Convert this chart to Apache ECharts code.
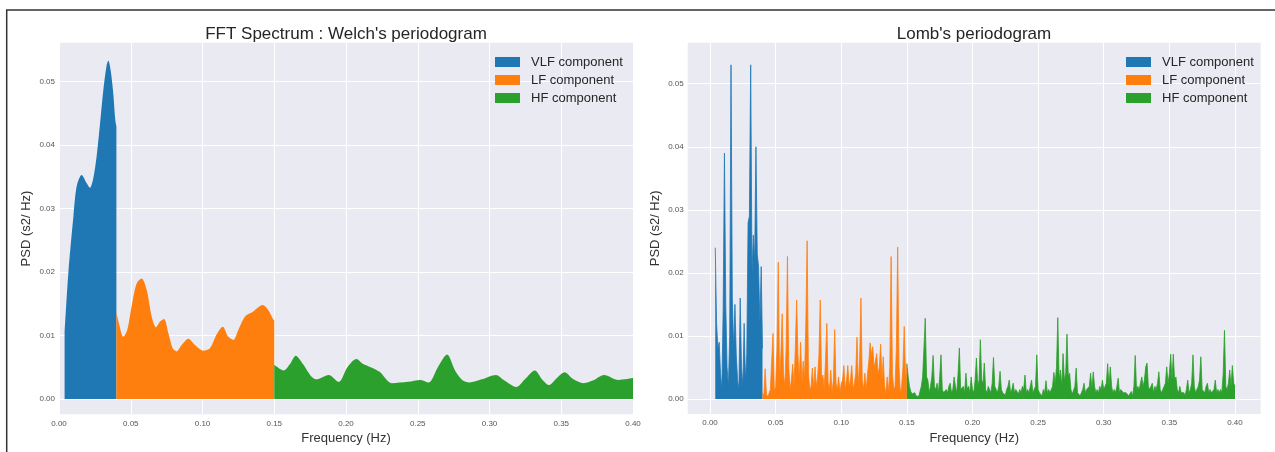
<!DOCTYPE html>
<html><head><meta charset="utf-8">
<script src="https://cdn.jsdelivr.net/npm/echarts@6/dist/echarts.min.js"></script>
<style>html,body{margin:0;padding:0;background:#fff}#c{width:1275px;height:452px}</style>
</head><body><div id="c"></div>
<script>
const FONT = '"Liberation Sans", Arial, sans-serif';
const COLORS = ['#1f77b4', '#ff7f0e', '#2ca02c'];
const componentNames = ['VLF component', 'LF component', 'HF component'];
const titles = ["FFT Spectrum : Welch's periodogram", "Lomb's periodogram"];
const xTicks = [0, 0.05, 0.10, 0.15, 0.20, 0.25, 0.30, 0.35, 0.40];
const yTicks = [0, 0.01, 0.02, 0.03, 0.04, 0.05];

// Welch periodogram: [frequency (Hz), PSD]
const welchVLF = [[0.0039,0.0105],[0.0065,0.0198],[0.0100,0.0287],[0.0123,0.0335],[0.0158,0.0353],[0.0193,0.0340],[0.0216,0.0333],[0.0239,0.0348],[0.0262,0.0382],[0.0286,0.0434],[0.0309,0.0487],[0.0332,0.0526],[0.0344,0.0533],[0.0360,0.0518],[0.0378,0.0482],[0.0392,0.0440],[0.0400,0.0430]];
const welchLF = [[0.0400,0.0137],[0.0420,0.0117],[0.0448,0.0098],[0.0476,0.0109],[0.0506,0.0146],[0.0541,0.0182],[0.0576,0.0190],[0.0611,0.0172],[0.0646,0.0130],[0.0676,0.0113],[0.0704,0.0122],[0.0732,0.0126],[0.0762,0.0104],[0.0792,0.0080],[0.0820,0.0075],[0.0855,0.0085],[0.0901,0.0095],[0.0948,0.0085],[0.1006,0.0076],[0.1052,0.0080],[0.1099,0.0102],[0.1141,0.0114],[0.1180,0.0098],[0.1215,0.0093],[0.1250,0.0109],[0.1296,0.0130],[0.1354,0.0138],[0.1419,0.0148],[0.1459,0.0140],[0.1494,0.0125],[0.1500,0.0124]];
const welchHF = [[0.1500,0.0054],[0.1566,0.0045],[0.1610,0.0055],[0.1650,0.0068],[0.1700,0.0055],[0.1750,0.0038],[0.1793,0.0031],[0.1879,0.0038],[0.1950,0.0027],[0.2010,0.0050],[0.2072,0.0063],[0.2120,0.0055],[0.2163,0.0051],[0.2234,0.0043],[0.2319,0.0025],[0.2433,0.0027],[0.2518,0.0030],[0.2576,0.0026],[0.2640,0.0050],[0.2704,0.0070],[0.2760,0.0045],[0.2810,0.0030],[0.2860,0.0026],[0.2945,0.0031],[0.3045,0.0038],[0.3100,0.0030],[0.3187,0.0019],[0.3250,0.0032],[0.3315,0.0045],[0.3370,0.0030],[0.3415,0.0022],[0.3470,0.0033],[0.3523,0.0042],[0.3580,0.0032],[0.3657,0.0025],[0.3720,0.0029],[0.3798,0.0038],[0.3898,0.0030],[0.4000,0.0033]];

// Lomb periodogram, PSD in units of 1e-3, one value per 0.001 Hz starting at the given frequency
const LOMB_STEP = 0.001, LOMB_UNIT = 1e-3;
const lombVLFStart = 0.004;
const lombVLF = [
 24, 12, 8, 9, 4, 1.5, 14, 39, 15, 5,
 2, 10, 53, 16, 8, 15, 7, 3, 1.5, 16,
 5, 2, 12, 3, 7, 28, 29, 53, 20, 26,
 22, 40, 23, 21, 12, 21, 8];
const lombLFStart = 0.040;
const lombLF = [
 1.0, 0.5, 4.8, 0.8, 0.3, 0.5, 1.5, 6, 10.4, 1.2,
 2.0, 8, 21.7, 3, 7, 13.5, 4, 2, 8, 22.6,
 5, 1.5, 3, 5.5, 2, 8, 15.7, 7, 3, 9,
 2.5, 6, 3, 12, 25.1, 4, 1.5, 2, 4.9, 1.5,
 5.1, 2, 3.5, 7, 15.7, 3, 3.8, 1.5, 6, 12,
 2.5, 1.5, 4.6, 1, 3, 11, 2.5, 1.5, 3.5, 1,
 2.5, 3, 5.3, 1.5, 3, 5.3, 2, 3, 5.3, 1.5,
 2.5, 4, 9.8, 2, 6, 16, 3, 1.5, 4.1, 1.5,
 4, 6, 8.9, 7, 8.3, 5, 6, 7.2, 4, 5,
 8.7, 3, 6.7, 2, 1, 3.5, 1, 5, 22.6, 4,
 1.5, 2, 8, 24.1, 5, 1, 2, 5, 11.5, 3,
 5.6];
const lombHFStart = 0.150;
const lombHF = [
 5.6, 3.5, 2.0, 1.2, 0.8, 0.6, 1.0, 0.5, 0.7, 0.4,
 1.2, 2.0, 3.5, 8, 12.8, 3.5, 3.0, 1.0, 2.0, 3.5,
 6.9, 2.0, 1.5, 2.5, 1.0, 3.5, 7.0, 1.5, 1.0, 0.8,
 1.5, 1.0, 2.0, 2.5, 1.0, 1.5, 3.5, 2.0, 1.0, 4,
 8.1, 1.5, 1.5, 2.0, 1.0, 4.1, 1.5, 2.0, 1.0, 3.5,
 1.5, 1.0, 3, 6.5, 2.0, 3, 9.4, 3, 2.5, 5.7,
 1.5, 1.0, 2.0, 1.5, 1.0, 2.5, 6.6, 2.0, 1.5, 1.0,
 2, 4.4, 1.5, 1.0, 1.0, 0.6, 1.5, 2.0, 3.0, 1.0,
 1.5, 2.5, 1.0, 1.5, 1.2, 0.8, 1.5, 1.0, 2.0, 1.5,
 3.8, 1.0, 1.5, 1.0, 2.0, 3.0, 1.0, 1.5, 2.0, 7.0,
 1.5, 1.0, 1.0, 0.5, 1.5, 1.0, 2.9, 1.0, 1.5, 1.0,
 0.8, 2.0, 4.2, 2.5, 5, 12.9, 3, 4.6, 2.0, 7.2,
 3, 4.0, 10.3, 3.5, 4.1, 1.5, 0.8, 1.0, 2.0, 4.9,
 1.0, 0.8, 0.5, 1.0, 1.5, 2.5, 1.0, 1.5, 1.2, 2.0,
 4.1, 1.5, 4.3, 2.0, 1.0, 1.5, 1.0, 2.0, 1.5, 3.0,
 1.5, 2.0, 2.5, 5.6, 2.0, 5.1, 2.0, 1.0, 1.5, 1.0,
 2.0, 3.3, 1.0, 1.5, 1.5, 1.0, 0.8, 1.0, 1.0, 0.5,
 0.6, 1.2, 0.5, 2.0, 6.9, 1.5, 2.0, 1.5, 2.5, 3.5,
 2.0, 3.0, 5.1, 5.7, 2.0, 1.5, 1.5, 2.5, 1.0, 2.0,
 1.5, 2.5, 4.3, 1.5, 1.0, 1.5, 2.0, 2.5, 5.1, 2.5,
 4, 7.1, 3.0, 7.1, 3.0, 3.5, 1.5, 1.0, 2.0, 1.0,
 0.8, 1.0, 0.6, 1.5, 3.0, 1.0, 1.5, 2.5, 7.0, 2.0,
 1.0, 1.5, 2.0, 3, 6.7, 1.5, 1.5, 1.0, 2.0, 2.5,
 1.0, 1.5, 1.0, 0.8, 1.5, 3.0, 1.0, 1.5, 1.0, 1.5,
 1.0, 4, 10.9, 2.0, 1.5, 2.5, 4.6, 2.0, 5.3, 2.5,
 2.0];

function lombPairs(start, vals) {
  return vals.map((v, i) => [+(start + i * LOMB_STEP).toFixed(4), v * LOMB_UNIT]);
}

const grids = [
  { left: 59, top: 42.7, width: 574, height: 371.6 },
  { left: 687.7, top: 42.7, width: 573, height: 371.3 }
];
const xRanges = [[0, 0.40], [-0.017, 0.4196]];
const yRanges = [[-0.00241, 0.05615], [-0.00238, 0.05651]];

function xAxisCfg(i) {
  return {
    type: 'value', gridIndex: i, min: xRanges[i][0], max: xRanges[i][1],
    name: 'Frequency (Hz)', nameLocation: 'middle', nameGap: 15,
    nameTextStyle: { fontSize: 13, color: '#333', fontFamily: FONT },
    axisLine: { show: false, onZero: false },
    axisTick: { show: false, customValues: xTicks },
    axisLabel: { customValues: xTicks, formatter: v => v.toFixed(2), fontSize: 8, color: '#555', margin: 5, fontFamily: FONT, showMinLabel: true, showMaxLabel: true },
    splitLine: { show: true, customValues: xTicks, lineStyle: { color: '#ffffff', width: 1 } }
  };
}
function yAxisCfg(i) {
  return {
    type: 'value', gridIndex: i, min: yRanges[i][0], max: yRanges[i][1],
    name: 'PSD (s2/ Hz)', nameLocation: 'middle', nameGap: 26,
    nameTextStyle: { fontSize: 13, color: '#333', fontFamily: FONT },
    axisLine: { show: false, onZero: false },
    axisTick: { show: false, customValues: yTicks },
    axisLabel: { customValues: yTicks, formatter: v => v.toFixed(2), fontSize: 8, color: '#555', margin: 4, fontFamily: FONT },
    splitLine: { show: true, customValues: yTicks, lineStyle: { color: '#ffffff', width: 1 } }
  };
}
function areaSeries(name, color, data, gi, smooth) {
  return {
    type: 'line', name, xAxisIndex: gi, yAxisIndex: gi, data,
    showSymbol: false, symbol: 'none', smooth: smooth ? 0.3 : false,
    itemStyle: { color }, lineStyle: { color, width: smooth ? 0 : 0.8 },
    areaStyle: { color, opacity: 1 }, silent: true, z: 3
  };
}
function legendCfg(left) {
  return {
    orient: 'vertical', left, top: 50.5, padding: 5, icon: 'rect', itemWidth: 25, itemHeight: 10, itemGap: 5,
    selectedMode: false, data: componentNames,
    textStyle: { fontSize: 13, color: '#262626', fontFamily: FONT, padding: [0, 0, 0, 6] }
  };
}

const welchSets = [welchVLF, welchLF, welchHF];
const lombSets = [lombPairs(lombVLFStart, lombVLF), lombPairs(lombLFStart, lombLF), lombPairs(lombHFStart, lombHF)];
const series = [];
welchSets.forEach((d, k) => series.push(areaSeries(componentNames[k], COLORS[k], d, 0, true)));
lombSets.forEach((d, k) => series.push(areaSeries(componentNames[k], COLORS[k], d, 1, false)));

const chart = echarts.init(document.getElementById('c'), null, { renderer: 'canvas' });
chart.setOption({
  animation: false,
  backgroundColor: '#ffffff',
  grid: grids.map(g => Object.assign({ show: true, backgroundColor: '#EAEAF2', borderWidth: 0, containLabel: false }, g)),
  xAxis: [xAxisCfg(0), xAxisCfg(1)],
  yAxis: [yAxisCfg(0), yAxisCfg(1)],
  legend: [legendCfg(490), legendCfg(1121)],
  series,
  graphic: [
    { type: 'rect', shape: { x: 6.7, y: 10, width: 1300, height: 500 }, style: { fill: 'none', stroke: '#333', lineWidth: 1.5 }, silent: true },
    { type: 'text', x: 346, y: 34, style: { text: titles[0], textAlign: 'center', textVerticalAlign: 'middle', font: '17px ' + FONT, fill: '#262626' } },
    { type: 'text', x: 974, y: 34, style: { text: titles[1], textAlign: 'center', textVerticalAlign: 'middle', font: '17px ' + FONT, fill: '#262626' } }
  ]
});
</script></body></html>
